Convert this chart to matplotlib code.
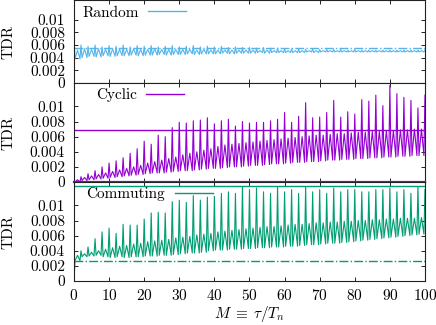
import numpy as np
import matplotlib
matplotlib.use('Agg')
import matplotlib.pyplot as plt

plt.rcParams['font.family'] = 'serif'
plt.rcParams['font.serif'] = ['cmr10']
plt.rcParams['mathtext.fontset'] = 'cm'
plt.rcParams['axes.unicode_minus'] = False
plt.rcParams['axes.formatter.use_mathtext'] = True

# tall spikes at M = 0, 2, ..., 100 ; mid peaks and troughs in between
m_even = np.arange(0, 101, 2)

rnd_spike = [0.0071, 0.0060, 0.0058, 0.0060, 0.0057, 0.0059, 0.0058, 0.0060, 0.0057, 0.0059,
             0.0058, 0.0059, 0.0057, 0.0058, 0.0059, 0.0057, 0.0058, 0.0059, 0.0057, 0.0058,
             0.0057, 0.0058, 0.0056, 0.0057, 0.0056, 0.0056, 0.0055, 0.0056, 0.0055, 0.0055,
             0.0054, 0.0054, 0.0054, 0.0053, 0.0054, 0.0053, 0.0053, 0.0053, 0.0053, 0.0052,
             0.0053, 0.0052, 0.0052, 0.0052, 0.0052, 0.0052, 0.0052, 0.0052, 0.0052, 0.0052, 0.0052]
rnd_mid = [0.0052, 0.0054, 0.0053, 0.0054, 0.0053, 0.0054, 0.0053, 0.0053, 0.0054, 0.0053,
           0.0053, 0.0054, 0.0053, 0.0053, 0.0053, 0.0053, 0.0053, 0.0052, 0.0053, 0.0052,
           0.0052, 0.0052, 0.0052, 0.0052, 0.0052, 0.0052, 0.0051, 0.0052, 0.0051, 0.0051,
           0.0051, 0.0051, 0.0051, 0.0051, 0.0051, 0.0051, 0.0051, 0.0051, 0.0051, 0.0051,
           0.0051, 0.0051, 0.0051, 0.0051, 0.0051, 0.0051, 0.0051, 0.0051, 0.0051, 0.0051]
rnd_low = [0.0038, 0.0040, 0.0042, 0.0041, 0.0043, 0.0042, 0.0043, 0.0043, 0.0044, 0.0043,
           0.0044, 0.0044, 0.0045, 0.0044, 0.0045, 0.0045, 0.0046, 0.0045, 0.0046, 0.0046,
           0.0046, 0.0047, 0.0046, 0.0047, 0.0047, 0.0047, 0.0048, 0.0047, 0.0048, 0.0048,
           0.0048, 0.0048, 0.0048, 0.0049, 0.0048, 0.0049, 0.0049, 0.0049, 0.0049, 0.0049,
           0.0049, 0.0049, 0.0049, 0.0049, 0.0049, 0.0049, 0.0049, 0.0049, 0.0049, 0.0049]
rnd_ref = 0.0055

cyc_spike = [0.0001, 0.0007, 0.0011, 0.0015, 0.0020, 0.0025, 0.0028, 0.0032, 0.0038, 0.0044,
             0.0054, 0.0050, 0.0062, 0.0060, 0.0072, 0.0079, 0.0078, 0.0081, 0.0082, 0.0085,
             0.0077, 0.0081, 0.0083, 0.0074, 0.0080, 0.0078, 0.0079, 0.0079, 0.0081, 0.0083,
             0.0092, 0.0079, 0.0087, 0.0105, 0.0085, 0.0086, 0.0092, 0.0108, 0.0086, 0.0093,
             0.0090, 0.0109, 0.0107, 0.0115, 0.0101, 0.0128, 0.0117, 0.0112, 0.0108, 0.0098, 0.0115]
cyc_mid = [0.0003, 0.0006, 0.0008, 0.0010, 0.0012, 0.0014, 0.0016, 0.0018, 0.0020, 0.0022,
           0.0025, 0.0027, 0.0029, 0.0031, 0.0033, 0.0036, 0.0038, 0.0040, 0.0042, 0.0044,
           0.0047, 0.0049, 0.0050, 0.0051, 0.0052, 0.0053, 0.0054, 0.0055, 0.0056, 0.0057,
           0.0058, 0.0059, 0.0060, 0.0061, 0.0062, 0.0062, 0.0063, 0.0064, 0.0064, 0.0065,
           0.0066, 0.0066, 0.0067, 0.0067, 0.0068, 0.0068, 0.0069, 0.0069, 0.0070, 0.0070]
cyc_low = [0.0000, 0.0002, 0.0003, 0.0004, 0.0005, 0.0006, 0.0007, 0.0008, 0.0009, 0.0010,
           0.0011, 0.0012, 0.0012, 0.0013, 0.0014, 0.0015, 0.0015, 0.0016, 0.0017, 0.0018,
           0.0018, 0.0019, 0.0020, 0.0020, 0.0021, 0.0022, 0.0022, 0.0023, 0.0024, 0.0024,
           0.0025, 0.0026, 0.0026, 0.0027, 0.0027, 0.0028, 0.0029, 0.0029, 0.0030, 0.0030,
           0.0031, 0.0031, 0.0032, 0.0032, 0.0033, 0.0033, 0.0034, 0.0034, 0.0035, 0.0035]
cyc_ref = 0.0069

com_spike = [0.0000, 0.0040, 0.0045, 0.0056, 0.0065, 0.0070, 0.0063, 0.0075, 0.0074, 0.0074,
             0.0082, 0.0090, 0.0091, 0.0090, 0.0105, 0.0107, 0.0104, 0.0113, 0.0107, 0.0111,
             0.0112, 0.0116, 0.0118, 0.0116, 0.0125, 0.0121, 0.0123, 0.0118, 0.0116, 0.0125,
             0.0118, 0.0121, 0.0116, 0.0125, 0.0118, 0.0121, 0.0116, 0.0123, 0.0118, 0.0121,
             0.0121, 0.0118, 0.0118, 0.0121, 0.0121, 0.0123, 0.0118, 0.0121, 0.0116, 0.0125, 0.0121]
com_mid = [0.0034, 0.0036, 0.0038, 0.0040, 0.0042, 0.0044, 0.0046, 0.0047, 0.0049, 0.0050,
           0.0052, 0.0053, 0.0054, 0.0055, 0.0057, 0.0058, 0.0059, 0.0061, 0.0062, 0.0063,
           0.0065, 0.0066, 0.0067, 0.0068, 0.0069, 0.0070, 0.0071, 0.0072, 0.0072, 0.0073,
           0.0074, 0.0075, 0.0075, 0.0076, 0.0077, 0.0077, 0.0078, 0.0078, 0.0079, 0.0079,
           0.0080, 0.0080, 0.0081, 0.0081, 0.0082, 0.0082, 0.0083, 0.0083, 0.0083, 0.0084]
com_low = [0.0027, 0.0032, 0.0033, 0.0034, 0.0032, 0.0031, 0.0032, 0.0031, 0.0032, 0.0032,
           0.0033, 0.0033, 0.0034, 0.0034, 0.0035, 0.0036, 0.0037, 0.0037, 0.0038, 0.0040,
           0.0041, 0.0041, 0.0042, 0.0042, 0.0043, 0.0043, 0.0044, 0.0044, 0.0045, 0.0045,
           0.0046, 0.0046, 0.0047, 0.0048, 0.0048, 0.0049, 0.0050, 0.0050, 0.0051, 0.0052,
           0.0053, 0.0054, 0.0055, 0.0056, 0.0057, 0.0058, 0.0059, 0.0060, 0.0061, 0.0062]
com_ref = 0.0027
com_top = 0.0126

xticks = [0, 10, 20, 30, 40, 50, 60, 70, 80, 90, 100]
yticks = [0, 0.002, 0.004, 0.006, 0.008, 0.01]
ytick_labels = ['0', '0.002', '0.004', '0.006', '0.008', '0.01']

FS = 11


def zigzag(spike, mid, low):
    xs, ys = [], []
    for k in range(len(mid)):
        xs += [m_even[k], m_even[k] + 0.3, m_even[k] + 1.0, m_even[k] + 1.7]
        ys += [spike[k], low[k], mid[k], low[k]]
    xs.append(m_even[-1])
    ys.append(spike[-1])
    return np.array(xs), np.array(ys)


def style(ax, xlabels):
    ax.set_xlim(0, 100)
    ax.set_ylim(0, 0.0131)
    ax.set_xticks(xticks)
    ax.set_yticks(yticks)
    ax.set_yticklabels(ytick_labels)
    if not xlabels:
        ax.set_xticklabels([])
    ax.tick_params(direction='in', length=3.2, width=0.6, top=True, right=True,
                   labelsize=FS)
    ax.tick_params(axis='y', pad=6.5)
    ax.tick_params(axis='x', pad=5)
    for s in ax.spines.values():
        s.set_linewidth(0.8)
        s.set_color('#222222')
    ax.set_ylabel('TDR', fontsize=FS)
    ax.yaxis.set_label_coords(-0.168, 0.5)


fig = plt.figure(figsize=(4.36, 3.25), dpi=100)
ax0 = fig.add_axes([0.1697, 0.7446, 0.805, 0.2554])
ax1 = fig.add_axes([0.1697, 0.44, 0.805, 0.3046])
ax2 = fig.add_axes([0.1697, 0.1354, 0.805, 0.3046])

c_rnd = '#56b4e9'
c_cyc = '#9400d3'
c_com = '#009e73'

x, y = zigzag(rnd_spike, rnd_mid, rnd_low)
ax0.plot(x, y, color=c_rnd, lw=0.8, label='Random')
ax0.axhline(rnd_ref, color=c_rnd, lw=1.0, ls='-.')
style(ax0, False)

x, y = zigzag(cyc_spike, cyc_mid, cyc_low)
ax1.plot(x, y, color=c_cyc, lw=0.8, label='Cyclic')
ax1.axhline(cyc_ref, color=c_cyc, lw=1.0)
ax1.axhline(0, color=c_cyc, lw=1.6, clip_on=False, zorder=5)
style(ax1, False)

x, y = zigzag(com_spike, com_mid, com_low)
ax2.plot(x, y, color=c_com, lw=0.8, label='Commuting')
ax2.axhline(com_ref, color=c_com, lw=1.0, ls='-.')
ax2.axhline(com_top, color=c_com, lw=1.0)
style(ax2, True)
ax2.set_xlabel(r'$M\;\equiv\;\tau/T_n$', fontsize=FS, labelpad=1)

for ax, xa, ya in [(ax0, 0.024, 0.93), (ax1, 0.062, 0.95), (ax2, 0.036, 0.95)]:
    leg = ax.legend(loc='upper left', bbox_to_anchor=(xa, ya), markerfirst=False,
                    frameon=False, fontsize=FS, handlelength=2.5, handletextpad=0.6,
                    borderpad=0, borderaxespad=0)
    for h in leg.get_lines():
        h.set_linewidth(1.0)

fig.savefig('out.png', dpi=100)
